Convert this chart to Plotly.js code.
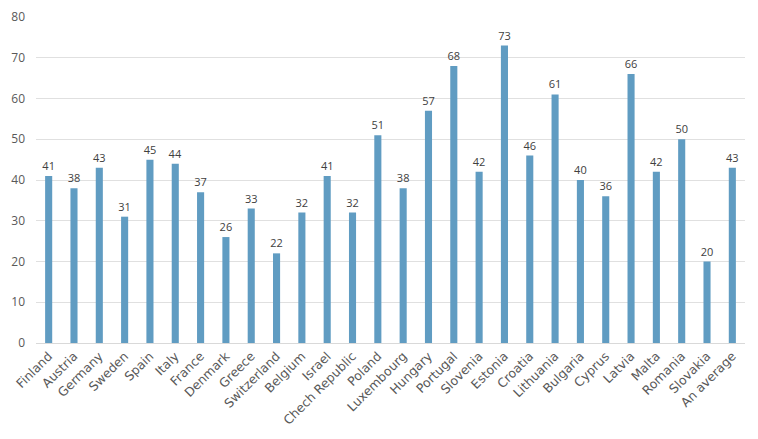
<!DOCTYPE html>
<html>
<head>
<meta charset="utf-8">
<script src="https://cdn.plot.ly/plotly-3.0.1.min.js"></script>
<style>
  html, body { margin: 0; padding: 0; background: #fff; }
  #chart { width: 758px; height: 439px; }
</style>
</head>
<body>
<div id="chart"></div>
<script>
var countries = ["Finland", "Austria", "Germany", "Sweden", "Spain", "Italy", "France",
    "Denmark", "Greece", "Switzerland", "Belgium", "Israel", "Chech Republic", "Poland",
    "Luxembourg", "Hungary", "Portugal", "Slovenia", "Estonia", "Croatia", "Lithuania",
    "Bulgaria", "Cyprus", "Latvia", "Malta", "Romania", "Slovakia", "An average"];
var values = [41, 38, 43, 31, 45, 44, 37, 26, 33, 22, 32, 41, 32, 51,
    38, 57, 68, 42, 73, 46, 61, 40, 36, 66, 42, 50, 20, 43];
var yTicks = [0, 10, 20, 30, 40, 50, 60, 70, 80];

var trace = {
    x: countries,
    y: values,
    type: "bar",
    marker: { color: "#609cc2" },
    text: values.map(String),
    textposition: "outside",
    constraintext: "none",
    cliponaxis: false,
    textfont: { color: "#404040", size: 11 },
    hoverinfo: "x+y"
};

var layout = {
    width: 758,
    height: 439,
    margin: { l: 36, r: 13, t: 17, b: 96 },
    paper_bgcolor: "#fff",
    plot_bgcolor: "#fff",
    font: { family: "'Open Sans', 'DejaVu Sans', sans-serif", color: "#595959", size: 11 },
    showlegend: false,
    bargap: 0.72,
    xaxis: {
        type: "category",
        tickangle: -45,
        tickfont: { family: "'DejaVu Sans', sans-serif", size: 12.5, color: "#595959" },
        showgrid: false,
        showline: true,
        linecolor: "#d9d9d9",
        linewidth: 1,
        ticks: ""
    },
    yaxis: {
        range: [0, 80],
        tickvals: yTicks,
        showgrid: true,
        gridcolor: "#e0e0e0",
        gridwidth: 1,
        zeroline: false,
        showline: false,
        ticks: "",
        ticklabelstandoff: 10,
        tickfont: { size: 12, color: "#595959" }
    }
};

Plotly.newPlot("chart", [trace], layout, { displayModeBar: false, staticPlot: true });
</script>
</body>
</html>
